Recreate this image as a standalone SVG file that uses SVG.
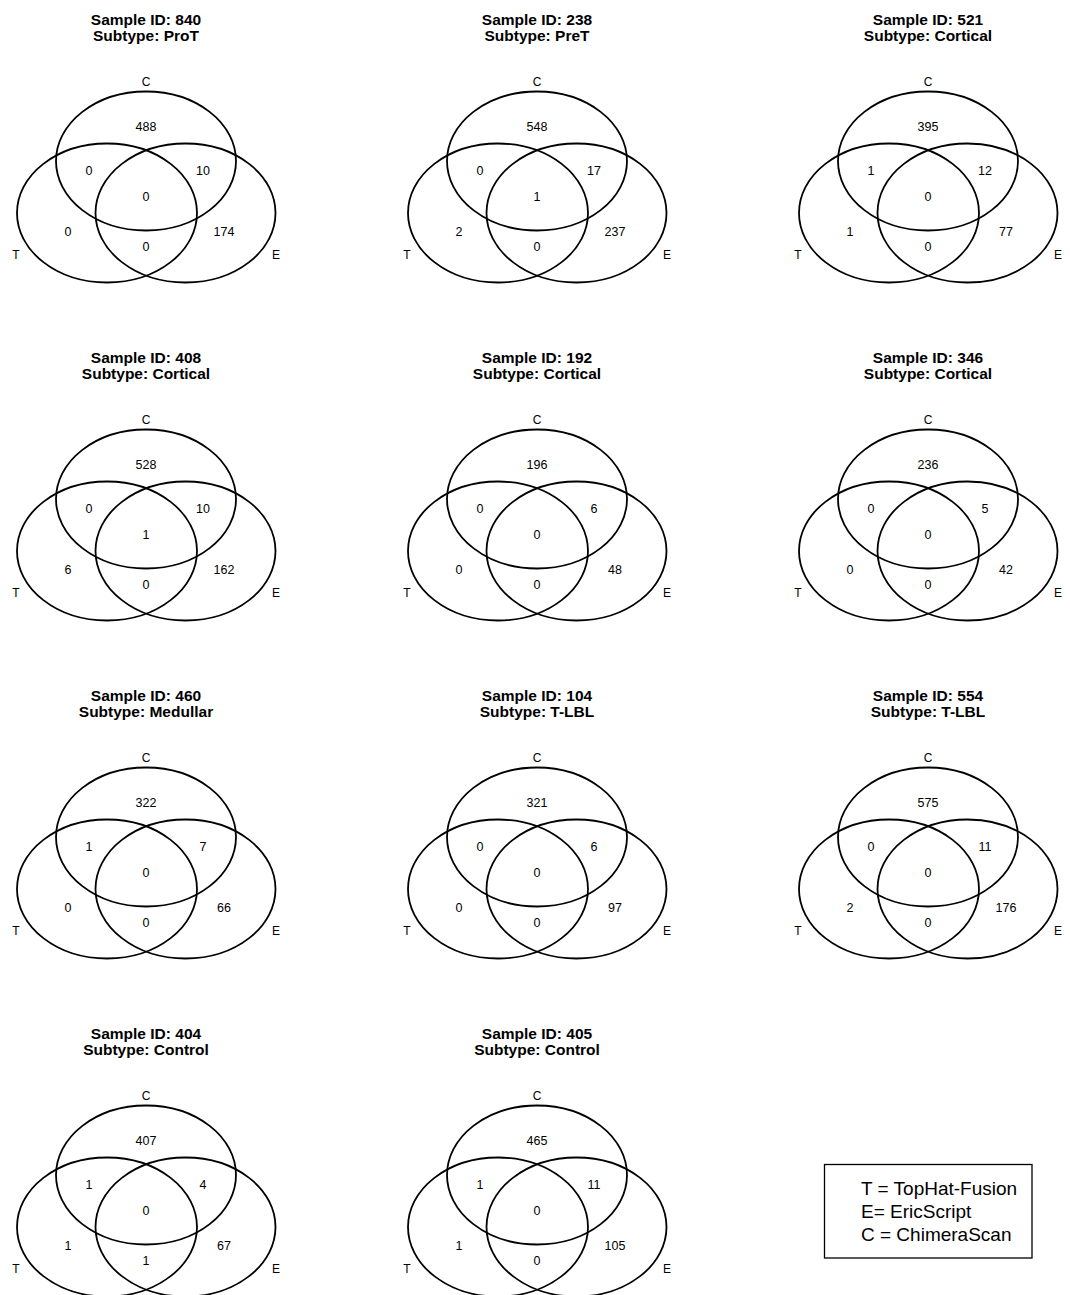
<svg xmlns="http://www.w3.org/2000/svg" width="1070" height="1295" viewBox="0 0 1070 1295">
<style>
.bg{fill:#fff}
.el{fill:none;stroke:#000;stroke-width:1.8}
.ti{font-family:"Liberation Sans",Arial,sans-serif;font-weight:bold;font-size:15.5px;text-anchor:middle;fill:#000}
.lb{font-family:"Liberation Sans",Arial,sans-serif;font-size:12px;text-anchor:middle;fill:#000}
.nm{font-family:"Liberation Sans",Arial,sans-serif;font-size:12.5px;text-anchor:middle;fill:#000}
.lg{font-family:"Liberation Sans",Arial,sans-serif;font-size:19px;fill:#000}
.box{fill:none;stroke:#000;stroke-width:1.3}
</style>
<defs>
<g id="venn">
<ellipse class="el" cx="146" cy="161" rx="90" ry="69.5"/>
<ellipse class="el" cx="107" cy="213" rx="90" ry="69.5"/>
<ellipse class="el" cx="185.5" cy="213" rx="90" ry="69.5"/>
<text class="lb" x="146" y="86">C</text>
<text class="lb" x="16" y="258.5">T</text>
<text class="lb" x="276" y="258.5">E</text>
</g>
</defs>
<rect class="bg" x="0" y="0" width="1070" height="1295"/>

<g id="s840" transform="translate(0,0)">
<text class="ti" x="146" y="25">Sample ID: 840</text>
<text class="ti" x="146" y="40.5">Subtype: ProT</text>
<use href="#venn"/>
<text class="nm" x="146" y="131">488</text>
<text class="nm" x="89" y="175">0</text>
<text class="nm" x="203" y="175">10</text>
<text class="nm" x="146" y="201">0</text>
<text class="nm" x="68" y="236">0</text>
<text class="nm" x="224" y="236">174</text>
<text class="nm" x="146" y="251">0</text>
</g>

<g id="s238" transform="translate(391,0)">
<text class="ti" x="146" y="25">Sample ID: 238</text>
<text class="ti" x="146" y="40.5">Subtype: PreT</text>
<use href="#venn"/>
<text class="nm" x="146" y="131">548</text>
<text class="nm" x="89" y="175">0</text>
<text class="nm" x="203" y="175">17</text>
<text class="nm" x="146" y="201">1</text>
<text class="nm" x="68" y="236">2</text>
<text class="nm" x="224" y="236">237</text>
<text class="nm" x="146" y="251">0</text>
</g>

<g id="s521" transform="translate(782,0)">
<text class="ti" x="146" y="25">Sample ID: 521</text>
<text class="ti" x="146" y="40.5">Subtype: Cortical</text>
<use href="#venn"/>
<text class="nm" x="146" y="131">395</text>
<text class="nm" x="89" y="175">1</text>
<text class="nm" x="203" y="175">12</text>
<text class="nm" x="146" y="201">0</text>
<text class="nm" x="68" y="236">1</text>
<text class="nm" x="224" y="236">77</text>
<text class="nm" x="146" y="251">0</text>
</g>

<g id="s408" transform="translate(0,338)">
<text class="ti" x="146" y="25">Sample ID: 408</text>
<text class="ti" x="146" y="40.5">Subtype: Cortical</text>
<use href="#venn"/>
<text class="nm" x="146" y="131">528</text>
<text class="nm" x="89" y="175">0</text>
<text class="nm" x="203" y="175">10</text>
<text class="nm" x="146" y="201">1</text>
<text class="nm" x="68" y="236">6</text>
<text class="nm" x="224" y="236">162</text>
<text class="nm" x="146" y="251">0</text>
</g>

<g id="s192" transform="translate(391,338)">
<text class="ti" x="146" y="25">Sample ID: 192</text>
<text class="ti" x="146" y="40.5">Subtype: Cortical</text>
<use href="#venn"/>
<text class="nm" x="146" y="131">196</text>
<text class="nm" x="89" y="175">0</text>
<text class="nm" x="203" y="175">6</text>
<text class="nm" x="146" y="201">0</text>
<text class="nm" x="68" y="236">0</text>
<text class="nm" x="224" y="236">48</text>
<text class="nm" x="146" y="251">0</text>
</g>

<g id="s346" transform="translate(782,338)">
<text class="ti" x="146" y="25">Sample ID: 346</text>
<text class="ti" x="146" y="40.5">Subtype: Cortical</text>
<use href="#venn"/>
<text class="nm" x="146" y="131">236</text>
<text class="nm" x="89" y="175">0</text>
<text class="nm" x="203" y="175">5</text>
<text class="nm" x="146" y="201">0</text>
<text class="nm" x="68" y="236">0</text>
<text class="nm" x="224" y="236">42</text>
<text class="nm" x="146" y="251">0</text>
</g>

<g id="s460" transform="translate(0,676)">
<text class="ti" x="146" y="25">Sample ID: 460</text>
<text class="ti" x="146" y="40.5">Subtype: Medullar</text>
<use href="#venn"/>
<text class="nm" x="146" y="131">322</text>
<text class="nm" x="89" y="175">1</text>
<text class="nm" x="203" y="175">7</text>
<text class="nm" x="146" y="201">0</text>
<text class="nm" x="68" y="236">0</text>
<text class="nm" x="224" y="236">66</text>
<text class="nm" x="146" y="251">0</text>
</g>

<g id="s104" transform="translate(391,676)">
<text class="ti" x="146" y="25">Sample ID: 104</text>
<text class="ti" x="146" y="40.5">Subtype: T-LBL</text>
<use href="#venn"/>
<text class="nm" x="146" y="131">321</text>
<text class="nm" x="89" y="175">0</text>
<text class="nm" x="203" y="175">6</text>
<text class="nm" x="146" y="201">0</text>
<text class="nm" x="68" y="236">0</text>
<text class="nm" x="224" y="236">97</text>
<text class="nm" x="146" y="251">0</text>
</g>

<g id="s554" transform="translate(782,676)">
<text class="ti" x="146" y="25">Sample ID: 554</text>
<text class="ti" x="146" y="40.5">Subtype: T-LBL</text>
<use href="#venn"/>
<text class="nm" x="146" y="131">575</text>
<text class="nm" x="89" y="175">0</text>
<text class="nm" x="203" y="175">11</text>
<text class="nm" x="146" y="201">0</text>
<text class="nm" x="68" y="236">2</text>
<text class="nm" x="224" y="236">176</text>
<text class="nm" x="146" y="251">0</text>
</g>

<g id="s404" transform="translate(0,1014)">
<text class="ti" x="146" y="25">Sample ID: 404</text>
<text class="ti" x="146" y="40.5">Subtype: Control</text>
<use href="#venn"/>
<text class="nm" x="146" y="131">407</text>
<text class="nm" x="89" y="175">1</text>
<text class="nm" x="203" y="175">4</text>
<text class="nm" x="146" y="201">0</text>
<text class="nm" x="68" y="236">1</text>
<text class="nm" x="224" y="236">67</text>
<text class="nm" x="146" y="251">1</text>
</g>

<g id="s405" transform="translate(391,1014)">
<text class="ti" x="146" y="25">Sample ID: 405</text>
<text class="ti" x="146" y="40.5">Subtype: Control</text>
<use href="#venn"/>
<text class="nm" x="146" y="131">465</text>
<text class="nm" x="89" y="175">1</text>
<text class="nm" x="203" y="175">11</text>
<text class="nm" x="146" y="201">0</text>
<text class="nm" x="68" y="236">1</text>
<text class="nm" x="224" y="236">105</text>
<text class="nm" x="146" y="251">0</text>
</g>

<g id="legend">
<rect class="box" x="824.5" y="1164.5" width="207.5" height="93.5"/>
<text class="lg" x="861" y="1195">T = TopHat-Fusion</text>
<text class="lg" x="861" y="1217.5">E= EricScript</text>
<text class="lg" x="861" y="1241">C = ChimeraScan</text>
</g>
<g id="connectors"/>
</svg>
